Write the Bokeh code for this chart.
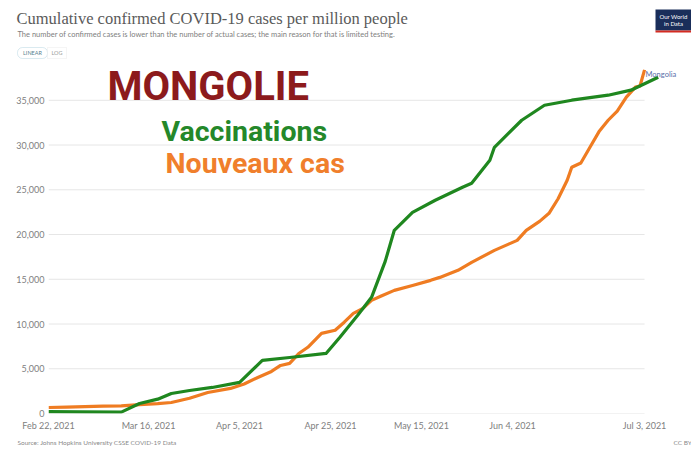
import pandas as pd
from bokeh.plotting import figure
from bokeh.layouts import column
from bokeh.models import (Range1d, FixedTicker, NumeralTickFormatter, Label,
                          BoxAnnotation, ColumnDataSource)
from bokeh.embed import file_html
from bokeh.resources import INLINE

# ---- data ----
case_dates = ["2021-02-22", "2021-02-26", "2021-03-02", "2021-03-06", "2021-03-10",
              "2021-03-14", "2021-03-18", "2021-03-21", "2021-03-25", "2021-03-29",
              "2021-04-03", "2021-04-06", "2021-04-09", "2021-04-12", "2021-04-14",
              "2021-04-16", "2021-04-18", "2021-04-20", "2021-04-23", "2021-04-26",
              "2021-04-28", "2021-04-30", "2021-05-02", "2021-05-04", "2021-05-06",
              "2021-05-09", "2021-05-13", "2021-05-17", "2021-05-19", "2021-05-23",
              "2021-05-26", "2021-05-31", "2021-06-03", "2021-06-05", "2021-06-07",
              "2021-06-10", "2021-06-12", "2021-06-14", "2021-06-16", "2021-06-17",
              "2021-06-19", "2021-06-21", "2021-06-23", "2021-06-25", "2021-06-27",
              "2021-06-29", "2021-07-01", "2021-07-02", "2021-07-03"]
case_values = [670, 720, 770, 820, 860,
               1000, 1100, 1230, 1700, 2350,
               2800, 3300, 4030, 4700, 5370,
               5600, 6700, 7400, 8950, 9300,
               10200, 11190, 11700, 12640, 13100,
               13760, 14300, 14880, 15210, 16000,
               16890, 18230, 18900, 19350, 20470,
               21500, 22370, 24000, 26060, 27520,
               28000, 29750, 31500, 32770, 33800,
               35350, 36470, 36600, 38400]

vacc_dates = ["2021-02-22", "2021-03-01", "2021-03-10", "2021-03-14", "2021-03-18",
              "2021-03-21", "2021-03-25", "2021-03-30", "2021-04-05", "2021-04-10",
              "2021-04-16", "2021-04-24", "2021-04-27", "2021-05-01", "2021-05-04",
              "2021-05-07", "2021-05-09", "2021-05-13", "2021-05-18", "2021-05-24",
              "2021-05-26", "2021-05-30", "2021-05-31", "2021-06-06", "2021-06-11",
              "2021-06-17", "2021-06-25", "2021-06-30", "2021-07-06"]
vacc_values = [200, 180, 150, 1120, 1600,
               2240, 2570, 2910, 3470, 5930,
               6260, 6710, 8500, 11000, 12980,
               17000, 20470, 22480, 23830, 25280,
               25730, 28300, 29750, 32770, 34450,
               35010, 35570, 36130, 37580]

y_ticks = [0, 5000, 10000, 15000, 20000, 25000, 30000, 35000]
x_tick_dates = ["2021-02-22", "2021-03-16", "2021-04-05", "2021-04-25",
                "2021-05-15", "2021-06-04", "2021-07-03"]
x_tick_labels = ["Feb 22, 2021", "Mar 16, 2021", "Apr 5, 2021", "Apr 25, 2021",
                 "May 15, 2021", "Jun 4, 2021", "Jul 3, 2021"]

title_text = "Cumulative confirmed COVID-19 cases per million people"
subtitle_text = ("The number of confirmed cases is lower than the number of actual cases; "
                 "the main reason for that is limited testing.")
source_text = "Source: Johns Hopkins University CSSE COVID-19 Data"
country = "Mongolia"

W = 691
TOP_H, MAIN_H, BOT_H = 60, 374, 18


def bare_fig(h):
    f = figure(width=W, height=h, output_backend="svg", toolbar_location=None,
               x_axis_location=None, y_axis_location=None,
               x_range=Range1d(0, 1), y_range=Range1d(0, 1),
               min_border=0)
    f.outline_line_color = None
    f.grid.visible = False
    f.border_fill_color = "white"
    f.frame_align = False
    return f


def add_text(f, text, x, y, size, color, font="Lato", style="normal",
             baseline="top", align="left"):
    f.add_layout(Label(x=x, y=y, x_units="canvas", y_units="canvas",
                       text=text, text_font_size=size, text_color=color,
                       text_font=font, text_font_style=style,
                       text_baseline=baseline, text_align=align))


def add_box(f, l, r, t, b, fill, line=None, radius=0):
    f.add_layout(BoxAnnotation(left=l, right=r, top=t, bottom=b,
                               left_units="canvas", right_units="canvas",
                               top_units="canvas", bottom_units="canvas",
                               fill_color=fill, fill_alpha=1.0, line_color=line,
                               line_width=1, border_radius=radius))


# ---- header ----
top = bare_fig(TOP_H)
add_text(top, title_text, 16, 8, "16.5px", "#5a5a5a", font="Liberation Serif")
add_text(top, subtitle_text, 17, 29, "7.5px", "#808080")
add_box(top, 17, 47, 47, 58, "white", "#86b9cc", 5)
add_box(top, 47, 66, 47, 58, "white", "#dddddd")
add_text(top, "LINEAR", 32, 52.5, "5.5px", "#5a7f8f", baseline="middle", align="center")
add_text(top, "LOG", 56.5, 52.5, "5.5px", "#9a9a9a", baseline="middle", align="center")
add_box(top, 655, 691, 9, 30, "#1a2e5a")
add_box(top, 655, 691, 30, 32, "#d42b21")
add_text(top, "Our World", 673, 12, "6px", "white", align="center")
add_text(top, "in Data", 673, 19.5, "6px", "white", align="center")

# ---- main chart ----
start = pd.Timestamp("2021-02-22")
px_per_day = 4.55
frame_left = 48
end = start + pd.Timedelta(days=(W - frame_left) / px_per_day)

p = figure(width=W, height=MAIN_H, x_axis_type="datetime", output_backend="svg",
           toolbar_location=None, x_range=Range1d(start, end),
           y_range=Range1d(0, 39000),
           min_border_left=frame_left, min_border_right=0, min_border_top=4,
           min_border_bottom=21)
p.frame_align = False
p.outline_line_color = None
p.xgrid.visible = False
p.ygrid.visible = False
p.background_fill_color = "white"
p.border_fill_color = "white"

last = pd.Timestamp(x_tick_dates[-1])
grid_src = ColumnDataSource(dict(x0=[start] * len(y_ticks), x1=[last] * len(y_ticks),
                                 y=y_ticks))
p.segment(x0="x0", y0="y", x1="x1", y1="y", source=grid_src,
          line_color="#e6e6e6", line_width=1)

cases = ColumnDataSource(dict(x=pd.to_datetime(case_dates), y=case_values))
vacc = ColumnDataSource(dict(x=pd.to_datetime(vacc_dates), y=vacc_values))
p.line("x", "y", source=cases, line_color="#ef7c22", line_width=3.2,
       line_join="round")
p.line("x", "y", source=vacc, line_color="#1f871f", line_width=3.2,
       line_join="round")

tick_ms = [pd.Timestamp(d).value / 1e6 for d in x_tick_dates]
p.xaxis.ticker = FixedTicker(ticks=tick_ms)
p.xaxis.major_label_overrides = {t: l for t, l in zip(tick_ms, x_tick_labels)}
p.yaxis.ticker = FixedTicker(ticks=y_ticks)
p.yaxis.formatter = NumeralTickFormatter(format="0,0")
for ax in (p.xaxis, p.yaxis):
    ax.axis_line_color = None
    ax.major_tick_line_color = None
    ax.minor_tick_line_color = None
    ax.major_tick_out = 0
    ax.major_tick_in = 0
    ax.minor_tick_out = 0
    ax.major_label_text_font = "Lato"
    ax.major_label_text_font_size = "9px"
    ax.major_label_text_color = "#808080"
p.yaxis.major_label_standoff = 4
p.xaxis.major_label_standoff = 6

off = TOP_H
add_text(p, "MONGOLIE", 107, 62 - off, "40px", "#8c1a1c", font="Roboto", style="bold")
add_text(p, "Vaccinations", 161, 114 - off, "28.5px", "#24882a", font="Roboto", style="bold")
add_text(p, "Nouveaux cas", 165, 146 - off, "28.5px", "#f07f2c", font="Roboto", style="bold")
add_text(p, country, 645, 74 - off, "7.5px", "#5a6fa8", baseline="middle")

# ---- footer ----
bot = bare_fig(BOT_H)
add_text(bot, source_text, 17, 4, "6.5px", "#8a8a8a")
add_text(bot, "CC BY", 673, 4, "6.5px", "#8a8a8a")

layout = column(top, p, bot, spacing=0)
open("out.html", "w").write(file_html(layout, INLINE))
